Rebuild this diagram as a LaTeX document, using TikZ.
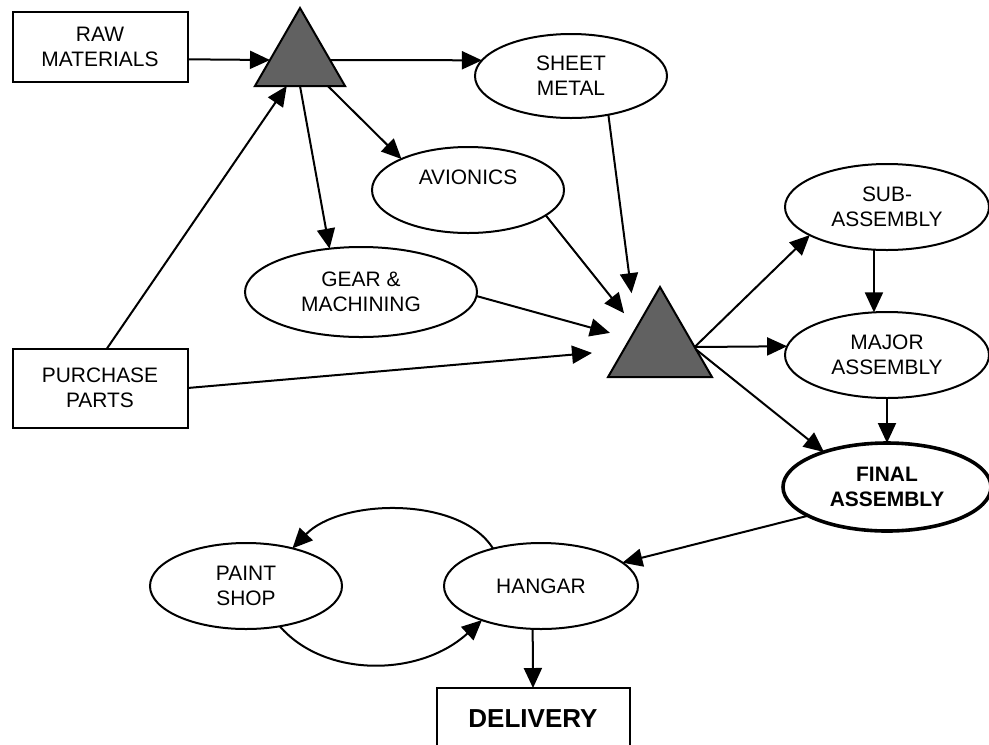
\documentclass[tikz,border=0pt]{standalone}
\usepackage{fontspec}
\setmainfont{Liberation Sans}
\usetikzlibrary{arrows.meta,shapes.geometric}
\begin{document}
\begin{tikzpicture}[x=0.75pt,y=-0.75pt,
  every node/.style={font=\fontsize{15.7}{18.75}\selectfont, align=center, inner sep=2pt, outer sep=0pt, line width=1.5pt},
  box/.style={draw, rectangle},
  oval/.style={draw, ellipse},
  tri/.style={draw, fill=black!62, regular polygon, regular polygon sides=3, inner sep=0pt},
  arr/.style={line width=1.5pt, -{Triangle[length=15pt,width=13.5pt]}},
  ]
\useasboundingbox (0,0) rectangle (989,744);
\fill[white] (0,0) rectangle (989,744);

\node[box, minimum width=131.25pt, minimum height=52.5pt] (raw) at (100,47) {RAW\\MATERIALS};
\node[box, minimum width=131.25pt, minimum height=59.25pt] (purchase) at (100,388) {PURCHASE\\PARTS};
\node[tri, minimum size=78pt] (t1) at (300,60) {};
\node[tri, minimum size=90pt] (t2) at (660,347) {};
\node[oval, minimum width=144pt, minimum height=63pt] (sheet) at (571,76) {SHEET\\METAL};
\node[oval, minimum width=144pt, minimum height=64.5pt] (avionics) at (468,190) {AVIONICS\\\mbox{}};
\node[oval, minimum width=174pt, minimum height=67.5pt] (gear) at (361,292) {GEAR \&\\MACHINING};
\node[oval, minimum width=153pt, minimum height=64.5pt] (sub) at (887,207) {SUB-\\ASSEMBLY};
\node[oval, minimum width=153pt, minimum height=64.5pt] (major) at (887,355) {MAJOR\\ASSEMBLY};
\node[oval, minimum width=156pt, minimum height=66pt, line width=2.7pt, font=\bfseries\fontsize{15.7}{18.75}\selectfont] (final) at (887,487) {FINAL\\ASSEMBLY};
\node[oval, minimum width=145.5pt, minimum height=64.5pt] (hangar) at (541,586) {HANGAR};
\node[oval, minimum width=144pt, minimum height=64.5pt] (paint) at (246,586) {PAINT\\SHOP};
\node[box, minimum width=144.75pt, minimum height=46.5pt, font=\bfseries\fontsize{19.5}{23}\selectfont] (delivery) at (533,719) {DELIVERY};

\draw[arr] (raw.-8.4) -- (t1.180);
\draw[arr] (t1.0) -- (sheet.170);
\draw[arr] (t1.-43) -- (avionics.155);
\draw[arr] (t1.-90) -- (gear.126);
\draw[arr] (purchase.80) -- (t1.243);
\draw[arr, shorten >=26.6pt] (sheet.-46) -- (t2.142);
\draw[arr, shorten >=14.5pt] (avionics.-18) -- (t2.142);
\draw[arr, shorten >=15.8pt] (gear.-2) -- (t2.164);
\draw[arr, shorten >=23.7pt] (purchase.0) -- (t2.185);
\draw[arr] (t2.0) -- (sub.200);
\draw[arr] (t2.0) -- (major.175);
\draw[arr] (t2.-4) -- (final.151);
\draw[arr] (sub.-107) -- (major.107);
\draw[arr] (major.-90) -- (final.90);
\draw[arr] (final.200) -- (hangar.16);
\draw[arr] (hangar.142) .. controls +(-33,-53) and +(48,-50) .. (paint.39);
\draw[arr] (paint.-50) .. controls +(45,52) and +(-62,57) .. (hangar.210);
\draw[arr] (hangar.-101) -- (delivery.north);
\end{tikzpicture}
\end{document}
